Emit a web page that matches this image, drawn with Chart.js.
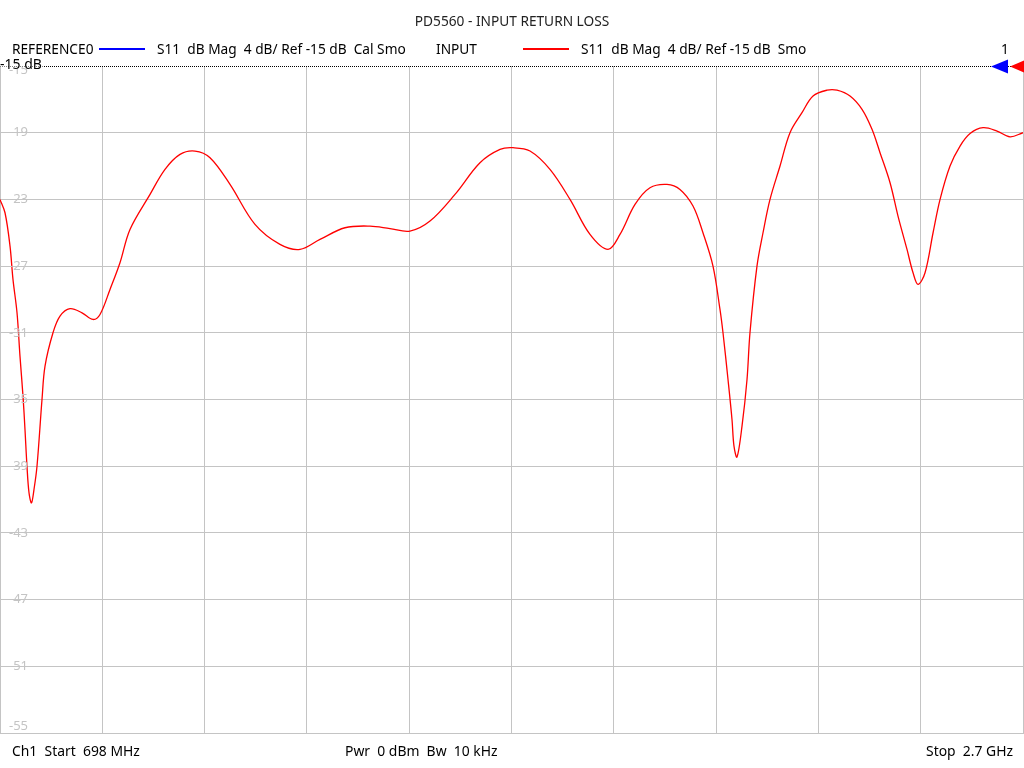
<!DOCTYPE html>
<html>
<head>
<meta charset="utf-8">
<script src="https://cdn.jsdelivr.net/npm/chart.js@4/dist/chart.umd.min.js"></script>
<style>
  body { margin: 0; background: #fff; }
  #wrap { width: 1024px; height: 768px; }
</style>
</head>
<body>
<div id="wrap"><canvas id="chart" width="1024" height="768"></canvas></div>
<script>
// sweep, MHz
const xStart = 698;
const xStop = 2700;

// S11 trace
const freqs = [698, 707.8, 717.6, 723.4, 731.3, 737.1, 743, 746.9, 750.8, 754.8, 759.6, 764.5, 770.4, 780.2, 786.1,
  801.7, 815.4, 835, 858.5, 880, 893.7, 913.3, 932.8, 952.4, 991.6, 1020.9, 1050.3, 1079.6, 1109, 1148.1,
  1197, 1245.9, 1285.1, 1324.2, 1373.1, 1422.1, 1461.2, 1500.3, 1539.5, 1588.4, 1637.3, 1676.5, 1701.9, 1735.2,
  1774.3, 1813.5, 1852.6, 1887.9, 1911.3, 1940.7, 1970, 2003.3, 2028.7, 2054.2, 2073.7, 2093.3, 2107, 2112.9,
  2122.7, 2130.5, 2134.4, 2140.3, 2150.1, 2159.9, 2165.7, 2179.4, 2191.2, 2204.9, 2224.5, 2244, 2267.5, 2289.1,
  2316.5, 2336, 2361.5, 2385, 2404.5, 2420.2, 2439.8, 2455.4, 2473, 2484.8, 2494.6, 2508.3, 2524, 2537.7,
  2557.2, 2576.8, 2596.4, 2621.8, 2649.2, 2674.6, 2700];
const s11 = [-23, -23.8, -25.8, -27.8, -29.8, -32.4, -34.8, -36.8, -39, -40.6, -41.2, -40.4, -39, -35, -33,
  -31, -30, -29.55, -29.8, -30.2, -29.9, -28.4, -26.8, -24.8, -22.7, -21.2, -20.3, -20.1, -20.5, -22.1,
  -24.5, -25.7, -26, -25.4, -24.7, -24.6, -24.75, -24.9, -24.3, -22.7, -20.8, -20, -19.9, -20.1,
  -21.2, -23, -25.1, -26, -25.1, -23.3, -22.3, -22.1, -22.4, -23.4, -25, -27, -29.6, -31,
  -33.8, -36.2, -37.8, -38.45, -36.6, -33.8, -31, -27, -25, -23, -21, -19, -17.8, -16.8,
  -16.45, -16.45, -16.8, -17.6, -18.8, -20.2, -22, -24, -26, -27.4, -28.1, -27.4, -25,
  -23, -21, -19.8, -19.05, -18.7, -18.9, -19.25, -19];

const yMin = -55;
const yMax = -15;
const yStep = 4;

const title = "PD5560 - INPUT RETURN LOSS";
const refName = "REFERENCE0";
const refDesc = "S11  dB Mag  4 dB/ Ref -15 dB  Cal Smo";
const trcName = "INPUT";
const trcDesc = "S11  dB Mag  4 dB/ Ref -15 dB  Smo";
const footLeft = "Ch1  Start  698 MHz";
const footMid = "Pwr  0 dBm  Bw  10 kHz";
const footRight = "Stop  2.7 GHz";

const gridGray = "#c4c4c4";
const font = "'Noto Sans', 'Open Sans', sans-serif";

// texts, y labels, reference line and markers
const decor = {
  id: "decor",
  afterDraw(chart) {
    const ctx = chart.ctx;
    const area = chart.chartArea;
    const y = chart.scales.y;
    ctx.save();

    // y labels inside the plot
    ctx.font = "13px " + font;
    ctx.fillStyle = "#c4c4c4";
    ctx.textAlign = "left";
    ctx.textBaseline = "middle";
    y.ticks.forEach((t) => {
      let py = y.getPixelForValue(t.value);
      if (py > area.bottom - 7) py = area.bottom - 7;
      if (py < area.top + 4) py = area.top + 4;
      ctx.fillText(String(t.value), 9, py);
    });

    // dotted reference line
    const ry = Math.round(y.getPixelForValue(yMax)) + 0.5;
    ctx.fillStyle = "#000";
    for (let x = 0; x < area.right; x += 2) ctx.fillRect(x, ry - 0.5, 1, 1);
    ctx.fillStyle = "#fff";
    ctx.fillRect(0, ry - 9, 43, 9);
    ctx.fillStyle = "#000";
    ctx.font = "14px " + font;
    ctx.textBaseline = "middle";
    ctx.fillText("-15 dB", 0, ry - 1);

    // reference markers
    ctx.fillStyle = "#0000ff";
    ctx.beginPath();
    ctx.moveTo(991, ry); ctx.lineTo(1008, ry - 7); ctx.lineTo(1008, ry + 7); ctx.closePath(); ctx.fill();
    ctx.fillStyle = "#ff0000";
    ctx.beginPath();
    ctx.moveTo(1010, ry); ctx.lineTo(1024, ry - 6); ctx.lineTo(1024, ry + 6); ctx.closePath(); ctx.fill();

    // header
    ctx.fillStyle = "#222";
    ctx.font = "13.7px " + font;
    ctx.textAlign = "center";
    ctx.fillText(title, 512, 22);
    ctx.textAlign = "left";
    ctx.fillStyle = "#000";
    ctx.fillText(refName, 12, 50);
    ctx.fillText(refDesc, 157, 50);
    ctx.fillText(trcName, 436, 50);
    ctx.fillText(trcDesc, 581, 50);
    ctx.fillText("1", 1001, 50);
    ctx.lineWidth = 2;
    ctx.strokeStyle = "#0000ff";
    ctx.beginPath(); ctx.moveTo(99, 49); ctx.lineTo(145, 49); ctx.stroke();
    ctx.strokeStyle = "#ff0000";
    ctx.beginPath(); ctx.moveTo(523, 49); ctx.lineTo(569, 49); ctx.stroke();

    // footer
    ctx.font = "13.9px " + font;
    ctx.fillStyle = "#000";
    ctx.fillText(footLeft, 12, 752);
    ctx.fillText(footMid, 345, 752);
    ctx.textAlign = "right";
    ctx.fillText(footRight, 1013, 752);
    ctx.restore();
  }
};

new Chart(document.getElementById("chart"), {
  type: "line",
  data: {
    datasets: [{
      label: trcName,
      data: freqs.map((f, i) => ({ x: f, y: s11[i] })),
      borderColor: "#ff0000",
      borderWidth: 1.3,
      pointRadius: 0,
      fill: false,
      tension: 0.35,
    }],
  },
  options: {
    responsive: false,
    animation: false,
    layout: { padding: { top: 66, bottom: 35, left: 0, right: 1 } },
    plugins: { legend: { display: false }, tooltip: { enabled: false } },
    scales: {
      x: {
        type: "linear",
        min: xStart,
        max: xStop,
        afterBuildTicks: (scale) => {
          scale.ticks = Array.from({ length: 11 }, (_, i) => ({ value: xStart + i * (xStop - xStart) / 10 }));
        },
        ticks: { display: false },
        grid: { color: gridGray, drawTicks: false },
        border: { color: gridGray },
      },
      y: {
        min: yMin,
        max: yMax,
        ticks: { display: false, stepSize: yStep },
        grid: {
          color: (c) => (c.tick && c.tick.value === yMax ? "rgba(0,0,0,0)" : gridGray),
          drawTicks: false,
        },
        border: { color: gridGray },
      },
    },
  },
  plugins: [decor],
});
</script>
</body>
</html>
